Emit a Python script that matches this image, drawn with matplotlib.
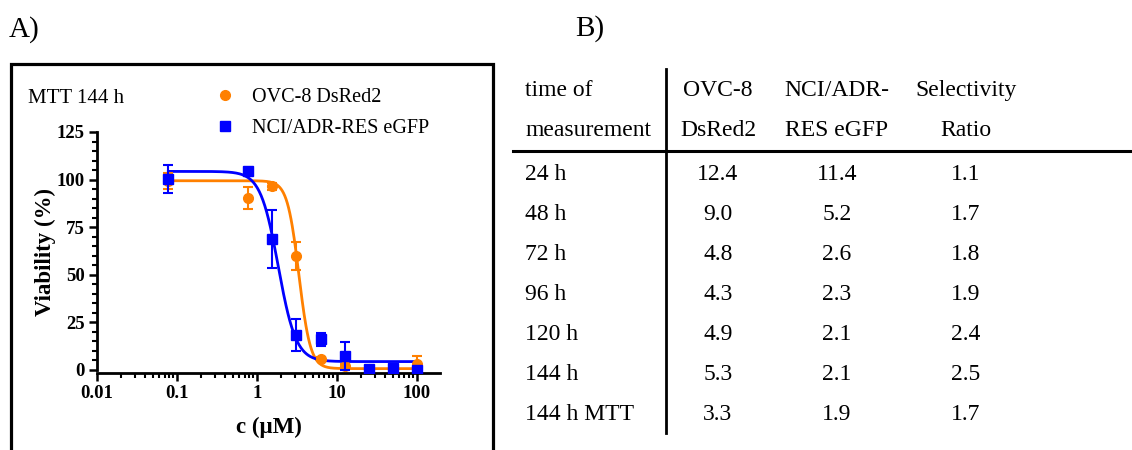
import numpy as np
import matplotlib.pyplot as plt
from matplotlib.lines import Line2D
from matplotlib.patches import Rectangle
from matplotlib.ticker import LogLocator, MultipleLocator, FixedLocator, FixedFormatter

plt.rcParams['font.family'] = ['Liberation Serif', 'DejaVu Serif']

# dose-response data (MTT, 144 h)
conc = [0.078, 0.78, 1.56, 3.125, 6.25, 12.5, 25, 50, 100]
ovc_mean = [99.5, 90.4, 96.5, 60.0, 5.8, 2.1, 0.3, 0.5, 3.0]
ovc_err = [4.2, 5.9, 1.8, 7.3, 0.8, 0.9, 0.5, 0.6, 4.4]
nci_mean = [100.4, 104.7, 68.8, 18.6, 16.1, 7.4, 0.3, 0.9, 0.2]
nci_err = [7.4, 0.6, 15.0, 8.4, 3.5, 7.5, 0.5, 1.0, 0.5]

# four-parameter logistic fits: top, bottom, IC50, hill
ovc_fit = (99.4, 0.7, 3.35, 6.0)
nci_fit = (104.3, 4.4, 1.85, 3.9)

# IC50 table (µM)
times = ['24 h', '48 h', '72 h', '96 h', '120 h', '144 h', '144 h MTT']
ic50_ovc = ['12.4', '9.0', '4.8', '4.3', '4.9', '5.3', '3.3']
ic50_nci = ['11.4', '5.2', '2.6', '2.3', '2.1', '2.1', '1.9']
sel_ratio = ['1.1', '1.7', '1.8', '1.9', '2.4', '2.5', '1.7']

orange = '#ff8000'
blue = '#0000ff'

W, H = 1132, 450
fig = plt.figure(figsize=(W / 100, H / 100), dpi=100)


def fx(px):
    return px / W


def fy(py):
    return 1 - py / H


def logistic(x, top, bottom, ic50, hill):
    return bottom + (top - bottom) / (1 + (x / ic50) ** hill)


# panel A
ax = fig.add_axes([fx(97), fy(373), fx(440) - fx(97), fy(132) - fy(373)])
xs = np.logspace(np.log10(conc[0]), np.log10(conc[-1]), 400)
ax.plot(xs, logistic(xs, *ovc_fit), color=orange, lw=2, zorder=2)
ax.plot(xs, logistic(xs, *nci_fit), color=blue, lw=2, zorder=2)
ax.errorbar(conc, ovc_mean, yerr=ovc_err, fmt='o', color=orange, ms=7,
            capsize=3.5, elinewidth=1.5, capthick=1.5, zorder=3)
ax.errorbar(conc, nci_mean, yerr=nci_err, fmt='s', color=blue, ms=7,
            capsize=3.5, elinewidth=1.5, capthick=1.5, zorder=4)

ax.set_xscale('log')
ax.set_xlim(0.01, 195)
ax.set_ylim(-1.6, 125)
ax.spines['top'].set_visible(False)
ax.spines['right'].set_visible(False)
ax.spines['left'].set_bounds(0, 125)
for s in ['left', 'bottom']:
    ax.spines[s].set_linewidth(2)
ax.yaxis.set_major_locator(MultipleLocator(25))
ax.yaxis.set_minor_locator(MultipleLocator(5))
ax.xaxis.set_major_locator(FixedLocator([0.01, 0.1, 1, 10, 100]))
ax.xaxis.set_major_formatter(FixedFormatter(['0.01', '0.1', '1', '10', '100']))
ax.xaxis.set_minor_locator(LogLocator(base=10, subs=np.arange(2, 10)))
ax.tick_params(which='major', length=6, width=1.8, direction='out', labelsize=13.5, pad=3)
ax.tick_params(which='minor', length=3.5, width=1.5, direction='out')
for lab in ax.get_xticklabels() + ax.get_yticklabels():
    lab.set_fontweight('bold')
ax.set_ylabel('Viability (%)', fontsize=16.5, fontweight='bold', labelpad=0)
ax.set_xlabel('c (µM)', fontsize=16.5, fontweight='bold', labelpad=10)
ax.patch.set_alpha(0)

leg_handles = [Line2D([], [], marker='o', color=orange, ls='none', ms=7),
               Line2D([], [], marker='s', color=blue, ls='none', ms=7)]
ax.legend(leg_handles, ['OVC-8 DsRed2', 'NCI/ADR-RES eGFP'], loc='upper left',
          bbox_to_anchor=(fx(215), fy(88)), bbox_transform=fig.transFigure,
          frameon=False, fontsize=14.5, handlelength=1.0, handletextpad=0.85,
          labelspacing=0.6, borderpad=0, borderaxespad=0)

fig.text(fx(28), fy(103), 'MTT 144 h', fontsize=15, va='baseline', ha='left')

# frame around panel A
fig.add_artist(Rectangle((fx(11), fy(470)), fx(493) - fx(11), fy(64) - fy(470),
                         transform=fig.transFigure, fill=False, lw=2.3, ec='black'))

fig.text(fx(9), fy(37), 'A)', fontsize=21, va='baseline', ha='left')
fig.text(fx(575), fy(36), 'B)', fontsize=21, va='baseline', ha='left')

# panel B: IC50 table
col_x = [525, 718, 837, 966]
head1 = ['time of', 'OVC-8', 'NCI/ADR-', 'Selectivity']
head2 = ['measurement', 'DsRed2', 'RES eGFP', 'Ratio']
fs = 17
for j in range(4):
    ha = 'left' if j == 0 else 'center'
    fig.text(fx(col_x[j]), fy(96), head1[j], fontsize=fs, ha=ha, va='baseline')
    fig.text(fx(col_x[j]), fy(136), head2[j], fontsize=fs, ha=ha, va='baseline')

for i, t in enumerate(times):
    yb = 179.5 + i * 40
    fig.text(fx(col_x[0]), fy(yb), t, fontsize=fs, ha='left', va='baseline')
    fig.text(fx(col_x[1]), fy(yb), ic50_ovc[i], fontsize=fs, ha='center', va='baseline')
    fig.text(fx(col_x[2]), fy(yb), ic50_nci[i], fontsize=fs, ha='center', va='baseline')
    fig.text(fx(col_x[3]), fy(yb), sel_ratio[i], fontsize=fs, ha='center', va='baseline')

fig.add_artist(Line2D([fx(666), fx(666)], [fy(69), fy(433)], color='black', lw=2))
fig.add_artist(Line2D([fx(513), fx(1132)], [fy(151), fy(151)], color='black', lw=2.2))

fig.savefig('out.png', dpi=100)
